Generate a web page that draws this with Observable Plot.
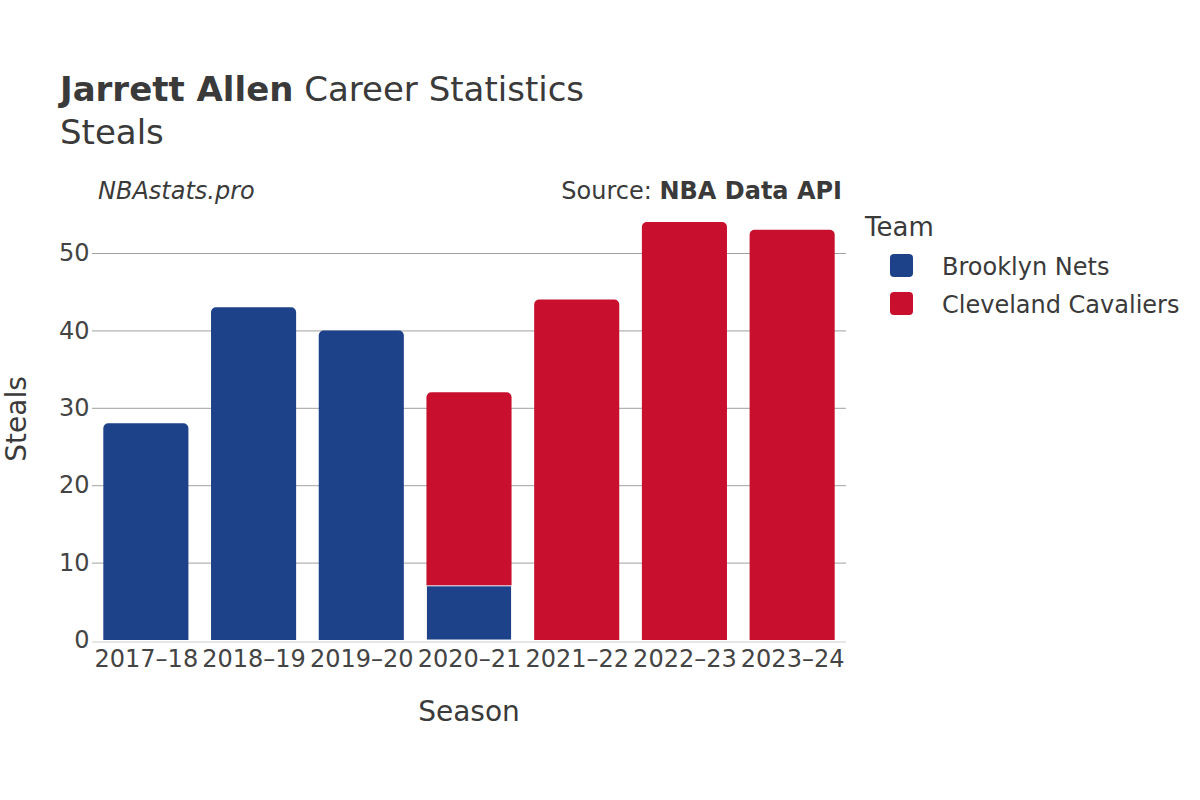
<!DOCTYPE html>
<html><head><meta charset="utf-8">
<script src="https://cdn.jsdelivr.net/npm/d3@7"></script>
<script src="https://cdn.jsdelivr.net/npm/@observablehq/plot@0.6"></script>
<style>
body{margin:0;background:#fff;font-family:"DejaVu Sans",sans-serif;color:#333;}
#wrap{position:relative;width:1200px;height:800px;overflow:hidden;}
#wrap svg{position:absolute;left:0;top:0;}
.t{position:absolute;white-space:nowrap;line-height:1;color:#3a3a3a;}
.sw{position:absolute;width:23px;height:23px;border-radius:4px;}
</style></head><body><div id="wrap"></div>
<script>
const seasons = ["2017–18","2018–19","2019–20","2020–21","2021–22","2022–23","2023–24"];
const teams = ["Brooklyn Nets","Cleveland Cavaliers"];
const teamColors = ["#1D428A","#C8102E"];
const netsSteals = [28, 43, 40, 7, null, null, null];
const cavsSteals = [null, null, null, 25, 44, 54, 53];
const yTicks = [0, 10, 20, 30, 40, 50];

// stack segments per season (Nets first, then Cavaliers)
const rows = [];
seasons.forEach((s, i) => {
  let base = 0;
  const segs = [];
  [[teams[0], netsSteals[i]], [teams[1], cavsSteals[i]]].forEach(([team, v]) => {
    if (v == null) return;
    segs.push({season: s, team, y1: base, y2: base + v, top: false});
    base += v;
  });
  segs[segs.length - 1].top = true;
  rows.push(...segs);
});
const topRows = rows.filter(d => d.top);
const lowerRows = rows.filter(d => !d.top);

const plot = Plot.plot({
  width: 1200, height: 800,
  marginLeft: 92, marginRight: 354, marginTop: 200, marginBottom: 160,
  style: {fontFamily: "DejaVu Sans", fontSize: "24px", color: "#444", background: "transparent", overflow: "visible"},
  x: {domain: seasons, paddingInner: 0.21, paddingOuter: 0.105, round: false, label: null, tickSize: 0, tickPadding: 9},
  y: {domain: [0, 56.85], ticks: yTicks, label: null, tickSize: 0, tickPadding: 3},
  color: {domain: teams, range: teamColors},
  marks: [
    Plot.ruleY(yTicks.filter(d => d > 0), {stroke: "#a0a0a0", strokeOpacity: 1, strokeWidth: 1}),
    // top segment: rounded top corners; bottom corners pushed below (clipped or covered)
    Plot.rectY(topRows, {x: "season", y1: d => d.y1 - 1, y2: "y2", fill: "team", rx: 5, clip: true}),
    Plot.rectY(lowerRows, {x: "season", y1: "y1", y2: "y2", fill: "team", stroke: "#f4f4f4", strokeWidth: 1, clip: true}),
    Plot.ruleY([0], {stroke: "#e6e6e6", strokeOpacity: 1, strokeWidth: 2, dy: 1.5})
  ]
});
const wrap = document.getElementById("wrap");
wrap.appendChild(plot);

function txt(html, x, baseline, fs, opts = {}) {
  const d = document.createElement("div");
  d.className = "t";
  d.innerHTML = html;
  d.style.fontSize = fs + "px";
  d.style.top = (baseline - 0.846 * fs) + "px";
  if (opts.right != null) { d.style.right = (1200 - opts.right) + "px"; }
  else if (opts.center) { d.style.left = x + "px"; d.style.transform = "translateX(-50%)"; }
  else d.style.left = x + "px";
  if (opts.italic) d.style.fontStyle = "italic";
  wrap.appendChild(d);
  return d;
}
txt("<b>Jarrett Allen</b> Career Statistics", 60, 101, 34);
txt("Steals", 60, 144, 34);
txt("NBAstats.pro", 98, 199, 24, {italic: true});
txt("Source: <b>NBA Data API</b>", 0, 199, 24, {right: 842});
txt("Season", 469, 722, 28, {center: true});
const yl = txt("Steals", 0, 0, 28);
yl.style.left = "17px"; yl.style.top = "419px";
yl.style.transform = "translate(-50%,-50%) rotate(-90deg)";
txt("Team", 865, 236, 26);
teams.forEach((t, i) => {
  const s = document.createElement("div");
  s.className = "sw";
  s.style.background = teamColors[i];
  s.style.left = "890px";
  s.style.top = (254 + i * 38) + "px";
  wrap.appendChild(s);
  txt(t, 942, 275 + i * 38, 24);
});
</script></body></html>
